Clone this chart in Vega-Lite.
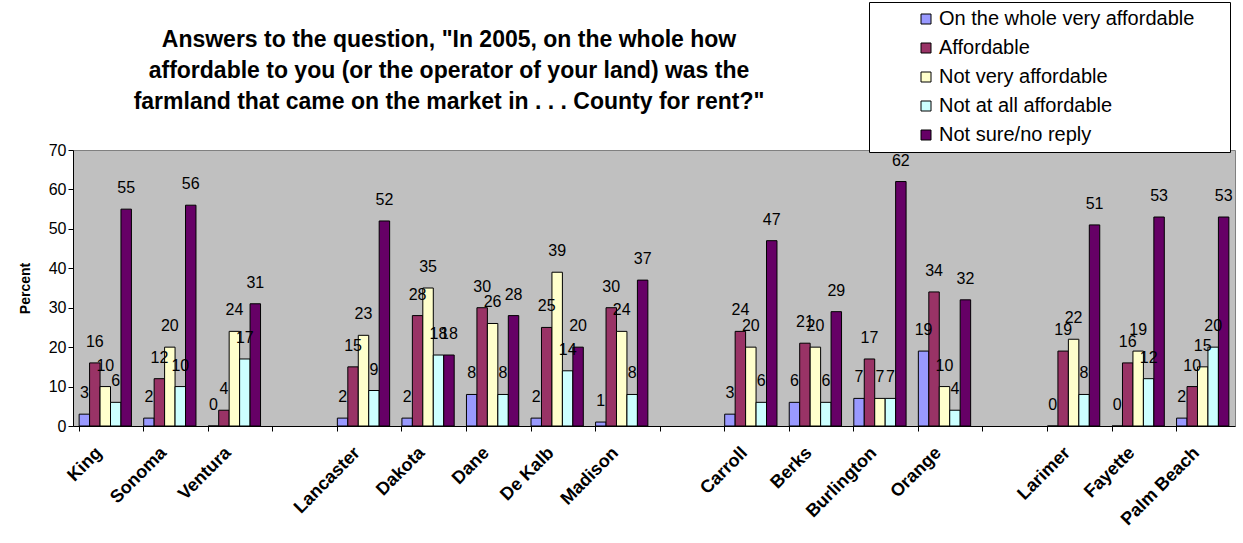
{
  "$schema": "https://vega.github.io/schema/vega-lite/v6.json",
  "width": 1162,
  "height": 276,
  "autosize": {"type": "none"},
  "padding": {"left": 73, "top": 150, "right": 8, "bottom": 117},
  "background": "white",
  "config": {
    "font": "Liberation Sans",
    "view": {"fill": "#C0C0C0", "stroke": "#808080", "strokeWidth": 1}
  },
  "title": {
    "text": [
      "Answers to the question, \"In 2005, on the whole how",
      "affordable to you (or the operator of your land) was the",
      "farmland that came on the market in . . . County for rent?\""
    ],
    "fontSize": 23,
    "fontWeight": "bold",
    "color": "black",
    "anchor": "middle",
    "dx": -205,
    "offset": -112,
    "lineHeight": 31
  },
  "data": {
    "values": [
      {"county": "King", "answer": "On the whole very affordable", "pct": 3},
      {"county": "King", "answer": "Affordable", "pct": 16},
      {"county": "King", "answer": "Not very affordable", "pct": 10},
      {"county": "King", "answer": "Not at all affordable", "pct": 6},
      {"county": "King", "answer": "Not sure/no reply", "pct": 55},
      {"county": "Sonoma", "answer": "On the whole very affordable", "pct": 2},
      {"county": "Sonoma", "answer": "Affordable", "pct": 12},
      {"county": "Sonoma", "answer": "Not very affordable", "pct": 20},
      {"county": "Sonoma", "answer": "Not at all affordable", "pct": 10},
      {"county": "Sonoma", "answer": "Not sure/no reply", "pct": 56},
      {"county": "Ventura", "answer": "On the whole very affordable", "pct": 0},
      {"county": "Ventura", "answer": "Affordable", "pct": 4},
      {"county": "Ventura", "answer": "Not very affordable", "pct": 24},
      {"county": "Ventura", "answer": "Not at all affordable", "pct": 17},
      {"county": "Ventura", "answer": "Not sure/no reply", "pct": 31},
      {"county": "Lancaster", "answer": "On the whole very affordable", "pct": 2},
      {"county": "Lancaster", "answer": "Affordable", "pct": 15},
      {"county": "Lancaster", "answer": "Not very affordable", "pct": 23},
      {"county": "Lancaster", "answer": "Not at all affordable", "pct": 9},
      {"county": "Lancaster", "answer": "Not sure/no reply", "pct": 52},
      {"county": "Dakota", "answer": "On the whole very affordable", "pct": 2},
      {"county": "Dakota", "answer": "Affordable", "pct": 28},
      {"county": "Dakota", "answer": "Not very affordable", "pct": 35},
      {"county": "Dakota", "answer": "Not at all affordable", "pct": 18},
      {"county": "Dakota", "answer": "Not sure/no reply", "pct": 18},
      {"county": "Dane", "answer": "On the whole very affordable", "pct": 8},
      {"county": "Dane", "answer": "Affordable", "pct": 30},
      {"county": "Dane", "answer": "Not very affordable", "pct": 26},
      {"county": "Dane", "answer": "Not at all affordable", "pct": 8},
      {"county": "Dane", "answer": "Not sure/no reply", "pct": 28},
      {"county": "De Kalb", "answer": "On the whole very affordable", "pct": 2},
      {"county": "De Kalb", "answer": "Affordable", "pct": 25},
      {"county": "De Kalb", "answer": "Not very affordable", "pct": 39},
      {"county": "De Kalb", "answer": "Not at all affordable", "pct": 14},
      {"county": "De Kalb", "answer": "Not sure/no reply", "pct": 20},
      {"county": "Madison", "answer": "On the whole very affordable", "pct": 1},
      {"county": "Madison", "answer": "Affordable", "pct": 30},
      {"county": "Madison", "answer": "Not very affordable", "pct": 24},
      {"county": "Madison", "answer": "Not at all affordable", "pct": 8},
      {"county": "Madison", "answer": "Not sure/no reply", "pct": 37},
      {"county": "Carroll", "answer": "On the whole very affordable", "pct": 3},
      {"county": "Carroll", "answer": "Affordable", "pct": 24},
      {"county": "Carroll", "answer": "Not very affordable", "pct": 20},
      {"county": "Carroll", "answer": "Not at all affordable", "pct": 6},
      {"county": "Carroll", "answer": "Not sure/no reply", "pct": 47},
      {"county": "Berks", "answer": "On the whole very affordable", "pct": 6},
      {"county": "Berks", "answer": "Affordable", "pct": 21},
      {"county": "Berks", "answer": "Not very affordable", "pct": 20},
      {"county": "Berks", "answer": "Not at all affordable", "pct": 6},
      {"county": "Berks", "answer": "Not sure/no reply", "pct": 29},
      {"county": "Burlington", "answer": "On the whole very affordable", "pct": 7},
      {"county": "Burlington", "answer": "Affordable", "pct": 17},
      {"county": "Burlington", "answer": "Not very affordable", "pct": 7},
      {"county": "Burlington", "answer": "Not at all affordable", "pct": 7},
      {"county": "Burlington", "answer": "Not sure/no reply", "pct": 62},
      {"county": "Orange", "answer": "On the whole very affordable", "pct": 19},
      {"county": "Orange", "answer": "Affordable", "pct": 34},
      {"county": "Orange", "answer": "Not very affordable", "pct": 10},
      {"county": "Orange", "answer": "Not at all affordable", "pct": 4},
      {"county": "Orange", "answer": "Not sure/no reply", "pct": 32},
      {"county": "Larimer", "answer": "On the whole very affordable", "pct": 0},
      {"county": "Larimer", "answer": "Affordable", "pct": 19},
      {"county": "Larimer", "answer": "Not very affordable", "pct": 22},
      {"county": "Larimer", "answer": "Not at all affordable", "pct": 8},
      {"county": "Larimer", "answer": "Not sure/no reply", "pct": 51},
      {"county": "Fayette", "answer": "On the whole very affordable", "pct": 0},
      {"county": "Fayette", "answer": "Affordable", "pct": 16},
      {"county": "Fayette", "answer": "Not very affordable", "pct": 19},
      {"county": "Fayette", "answer": "Not at all affordable", "pct": 12},
      {"county": "Fayette", "answer": "Not sure/no reply", "pct": 53},
      {"county": "Palm Beach", "answer": "On the whole very affordable", "pct": 2},
      {"county": "Palm Beach", "answer": "Affordable", "pct": 10},
      {"county": "Palm Beach", "answer": "Not very affordable", "pct": 15},
      {"county": "Palm Beach", "answer": "Not at all affordable", "pct": 20},
      {"county": "Palm Beach", "answer": "Not sure/no reply", "pct": 53}
    ]
  },
  "layer": [
    {
      "mark": {"type": "bar", "stroke": "black", "strokeWidth": 1},
      "encoding": {
        "x": {
          "field": "county",
          "type": "nominal",
          "title": null,
          "scale": {
            "domain": ["King", "Sonoma", "Ventura", " ", "Lancaster", "Dakota", "Dane", "De Kalb", "Madison", "  ", "Carroll", "Berks", "Burlington", "Orange", "   ", "Larimer", "Fayette", "Palm Beach"],
            "paddingInner": 0.19,
            "paddingOuter": 0.095
          },
          "axis": {
            "orient": "bottom",
            "labelAngle": -45,
            "labelAlign": "right",
            "labelBaseline": "middle",
            "labelFontSize": 18,
            "labelFontWeight": "bold",
            "labelColor": "black",
            "labelPadding": 24,
            "labelOffset": -6,
            "ticks": false,
            "domain": true,
            "domainColor": "black",
            "labelOverlap": false
          }
        },
        "xOffset": {
          "field": "answer",
          "type": "nominal",
          "scale": {
            "domain": ["On the whole very affordable", "Affordable", "Not very affordable", "Not at all affordable", "Not sure/no reply"],
            "paddingInner": 0,
            "paddingOuter": 0
          }
        },
        "y": {
          "field": "pct",
          "type": "quantitative",
          "title": "Percent",
          "scale": {"domain": [0, 70], "nice": false},
          "axis": {
            "values": [0, 10, 20, 30, 40, 50, 60, 70],
            "labelOverlap": false,
            "grid": false,
            "labelFontSize": 16,
            "labelColor": "black",
            "tickColor": "black",
            "tickSize": 5,
            "domainColor": "black",
            "titleFontSize": 14,
            "titleFontWeight": "bold",
            "titleColor": "black",
            "titlePadding": 16
          }
        },
        "color": {
          "field": "answer",
          "type": "nominal",
          "scale": {
            "domain": ["On the whole very affordable", "Affordable", "Not very affordable", "Not at all affordable", "Not sure/no reply"],
            "range": ["#9999FF", "#993366", "#FFFFCC", "#CCFFFF", "#660066"]
          },
          "legend": {
            "title": null,
            "orient": "none",
            "legendX": 796,
            "legendY": -148,
            "padding": 7,
            "fillColor": "white",
            "strokeColor": "black",
            "symbolType": "square",
            "symbolSize": 100,
            "symbolStrokeColor": "black",
            "symbolStrokeWidth": 1,
            "symbolOffset": 40,
            "labelOffset": 3,
            "labelFontSize": 20,
            "labelColor": "black",
            "labelLimit": 400,
            "rowPadding": 9,
            "labelExpr": "datum.label + '\u00a0\u00a0\u00a0\u00a0\u00a0\u200b'"
          }
        }
      }
    },
    {
      "mark": {"type": "text", "fontSize": 16, "dy": -21, "baseline": "middle", "align": "center", "color": "black"},
      "encoding": {
        "x": {
          "field": "county",
          "type": "nominal",
          "title": null,
          "axis": {
            "orient": "bottom",
            "bandPosition": 0,
            "labels": false,
            "ticks": true,
            "tickSize": 5,
            "tickColor": "black",
            "domain": false
          }
        },
        "xOffset": {"field": "answer", "type": "nominal"},
        "y": {
          "field": "pct",
          "type": "quantitative",
          "axis": {
            "values": [0, 10, 20, 30, 40, 50, 60, 70],
            "labelOverlap": false
          }
        },
        "text": {"field": "pct", "type": "quantitative"}
      }
    }
  ],
  "resolve": {"axis": {"x": "independent"}}
}
